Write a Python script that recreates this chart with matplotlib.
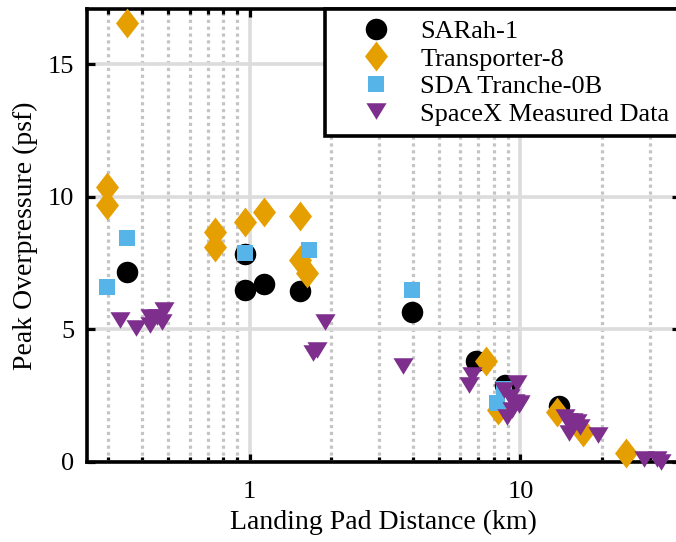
import matplotlib.pyplot as plt
from matplotlib.ticker import FixedLocator, NullFormatter

plt.rcParams['font.family'] = ['Liberation Serif', 'DejaVu Serif']

# data (distance in km, overpressure in psf)
sarah_x = [0.352, 0.964, 0.964, 1.133, 1.53, 3.98, 6.86, 8.75, 13.9]
sarah_y = [7.17, 7.84, 6.47, 6.70, 6.45, 5.64, 3.80, 2.89, 2.11]

trans_x = [0.352, 0.297, 0.297, 0.743, 0.743, 0.964, 1.133, 1.54, 1.53, 1.63,
           7.47, 8.3, 13.7, 17.1, 24.6]
trans_y = [16.57, 10.35, 9.69, 8.68, 8.11, 9.06, 9.43, 9.27, 7.61, 7.13,
           3.81, 1.95, 1.89, 1.13, 0.34]

sda_x = [0.296, 0.352, 0.964, 1.66, 3.98, 8.2, 8.7]
sda_y = [6.60, 8.43, 7.89, 7.99, 6.48, 2.23, 2.75]

spacex_x = [0.333, 0.38, 0.427, 0.43, 0.455, 0.475, 0.482, 1.71, 1.78, 1.89,
            3.69, 6.44, 6.63, 8.7, 8.9, 9.18, 9.3, 9.58, 9.7, 9.9, 10.0,
            14.6, 15.0, 15.1, 15.6, 16.2, 16.6, 19.4, 28.7, 32.0, 33.2]
spacex_y = [5.33, 5.05, 5.16, 5.45, 5.47, 5.28, 5.72, 4.09, 4.21, 5.28,
            3.61, 2.89, 3.27, 2.70, 1.70, 2.45, 1.95, 2.26, 2.96, 2.14, 2.20,
            1.70, 1.55, 1.10, 1.55, 1.50, 1.29, 1.02, 0.10, 0.10, 0.0]

major_x = [1, 10]
major_x_labels = ['1', '10']
minor_x = [0.3, 0.4, 0.5, 0.6, 0.7, 0.8, 0.9, 2, 3, 4, 5, 6, 7, 8, 9, 20, 30]
y_ticks = [0, 5, 10, 15]

diamond = [(0, 1), (0.77, 0), (0, -1), (-0.77, 0), (0, 1)]
tri_down = [(-1, 0.82), (1, 0.82), (0, -0.82), (-1, 0.82)]

fig = plt.figure(figsize=(6.76, 5.42), dpi=100)
ax = fig.add_axes([0.1283, 0.1482, 0.8777, 0.8347])
ax.set_xscale('log')
ax.set_xlim(0.25, 38.9)
ax.set_ylim(0, 17.07)

ax.plot(sarah_x, sarah_y, ls='none', marker='o', ms=15.5, color='black',
        mew=0, label='SARah-1', clip_on=False, zorder=4)
ax.plot(trans_x, trans_y, ls='none', marker=diamond, ms=21.5, color='#E69F00',
        mew=0, label='Transporter-8', clip_on=False, zorder=5)
ax.plot(sda_x, sda_y, ls='none', marker='s', ms=12, color='#56B4E9',
        mew=0, label='SDA Tranche-0B', clip_on=False, zorder=6)
ax.plot(spacex_x, spacex_y, ls='none', marker=tri_down, ms=14.5, color='#7E2F8E',
        mew=0, label='SpaceX Measured Data', clip_on=False, zorder=7)

ax.xaxis.set_major_locator(FixedLocator(major_x))
ax.set_xticklabels(major_x_labels)
ax.xaxis.set_minor_locator(FixedLocator(minor_x))
ax.xaxis.set_minor_formatter(NullFormatter())
ax.set_yticks(y_ticks)

ax.set_axisbelow(True)
ax.grid(which='major', color='#dcdcdc', lw=2.6, ls='-')
ax.grid(which='minor', axis='x', color='#c4c4c4', lw=2.3, ls=(0, (1, 1.15)))

for s in ax.spines.values():
    s.set_linewidth(2.6)
ax.tick_params(which='both', direction='in', top=True, right=True,
               width=2.3, labelsize=19, pad=9)
ax.tick_params(axis='x', which='both', pad=14)
ax.tick_params(which='major', length=5.5)
ax.tick_params(which='minor', length=3.5)

ax.set_xlabel('Landing Pad Distance (km)', fontsize=20, labelpad=5)
ax.set_ylabel('Peak Overpressure (psf)', fontsize=20, labelpad=7)

leg = ax.legend(loc='upper right', borderaxespad=0, fontsize=19,
                fancybox=False, framealpha=1, edgecolor='black',
                handlelength=3.0, handletextpad=0.2, labelspacing=0.15,
                borderpad=0.4)
leg.get_frame().set_linewidth(2.6)
leg.set_zorder(10)

fig.savefig('out.png', dpi=100)
